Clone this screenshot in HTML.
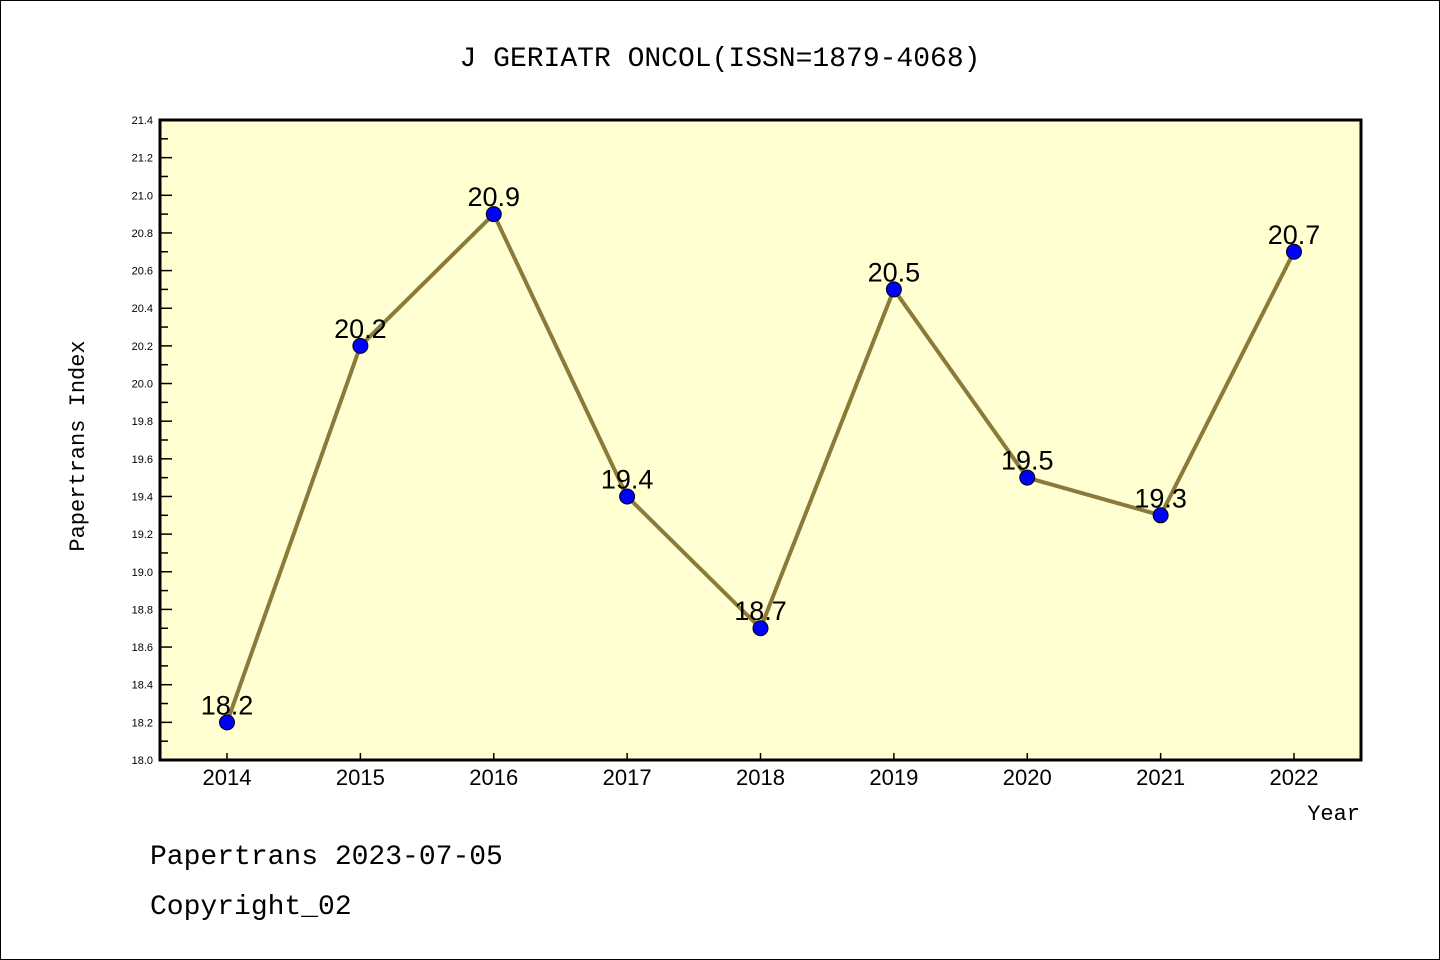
<!DOCTYPE html>
<html><head><meta charset="utf-8"><style>
body{margin:0;background:#fff}
svg{display:block;font-family:"Liberation Mono","DejaVu Sans Mono",monospace}
</style></head><body>
<svg width="1440" height="960">
<rect x="0.5" y="0.5" width="1439" height="959" fill="#fff" stroke="#000"/>
<text x="720" y="66" text-anchor="middle" font-size="28">J GERIATR ONCOL(ISSN=1879-4068)</text>
<rect x="160" y="120" width="1201" height="640" fill="#ffffd2"/>
<g id="g"></g>
<rect x="160" y="120" width="1201" height="640" fill="none" stroke="#000" stroke-width="3"/>
<text transform="translate(84,446) rotate(-90)" text-anchor="middle" font-size="22">Papertrans Index</text>
<text x="1360" y="820" text-anchor="end" font-size="22">Year</text>
<text x="150" y="864" font-size="28">Papertrans 2023-07-05</text>
<text x="150" y="914" font-size="28">Copyright_02</text>
</svg>
<script>
const years=[2014,2015,2016,2017,2018,2019,2020,2021,2022];
const values=[18.2,20.2,20.9,19.4,18.7,20.5,19.5,19.3,20.7];
const labels=["18.2","20.2","20.9","19.4","18.7","20.5","19.5","19.3","20.7"];
const yTicks=[18.0,18.2,18.4,18.6,18.8,19.0,19.2,19.4,19.6,19.8,20.0,20.2,20.4,20.6,20.8,21.0,21.2,21.4];
const yMin=18.0,yMax=21.4;
const X=i=>227+i*(1294-227)/(years.length-1);
const Y=v=>760-(v-yMin)/(yMax-yMin)*640;
const NS="http://www.w3.org/2000/svg";const g=document.getElementById('g');
function mk(t,a){const e=document.createElementNS(NS,t);for(const k in a)e.setAttribute(k,a[k]);g.appendChild(e);return e;}
yTicks.forEach((v,i)=>{
 const y=Y(v);
 const t=mk('line',{x1:160,x2:172,y1:y,y2:y,stroke:'#000','stroke-width':1.5});
 
 
 if(i<yTicks.length-1){const m=mk('line',{x1:160,x2:168,y1:(y+Y(yTicks[i+1]))/2,y2:(y+Y(yTicks[i+1]))/2,stroke:'#000','stroke-width':1.5});
 
 }
 const l=mk('text',{x:153,y:y+4,'text-anchor':'end','font-size':11,'font-family':'Liberation Sans, sans-serif'});l.textContent=v.toFixed(1);
 
 
});
years.forEach((yr,i)=>{
 const t=mk('line',{x1:X(i),x2:X(i),y1:760,y2:753,stroke:'#000','stroke-width':1.5});
 
 
 const l=mk('text',{x:X(i),y:785,'text-anchor':'middle','font-size':22,'font-family':'Liberation Sans, sans-serif'});l.textContent=yr;
 
 
});
const line=mk('polyline',{points:values.map((v,i)=>X(i)+','+Y(v)).join(' '),fill:'none',stroke:'#8b7a3a','stroke-width':4,'stroke-linejoin':'round'});


values.forEach((v,i)=>{
 const c=mk('circle',{cx:X(i),cy:Y(v),r:7.5,fill:'#0000ff',stroke:'#000','stroke-width':1});
 
 
 const l=mk('text',{x:X(i),y:Y(v)-8,'text-anchor':'middle','font-size':27,'font-family':'Liberation Sans, sans-serif'});l.textContent=labels[i];
 
 
});
</script>
</body></html>
